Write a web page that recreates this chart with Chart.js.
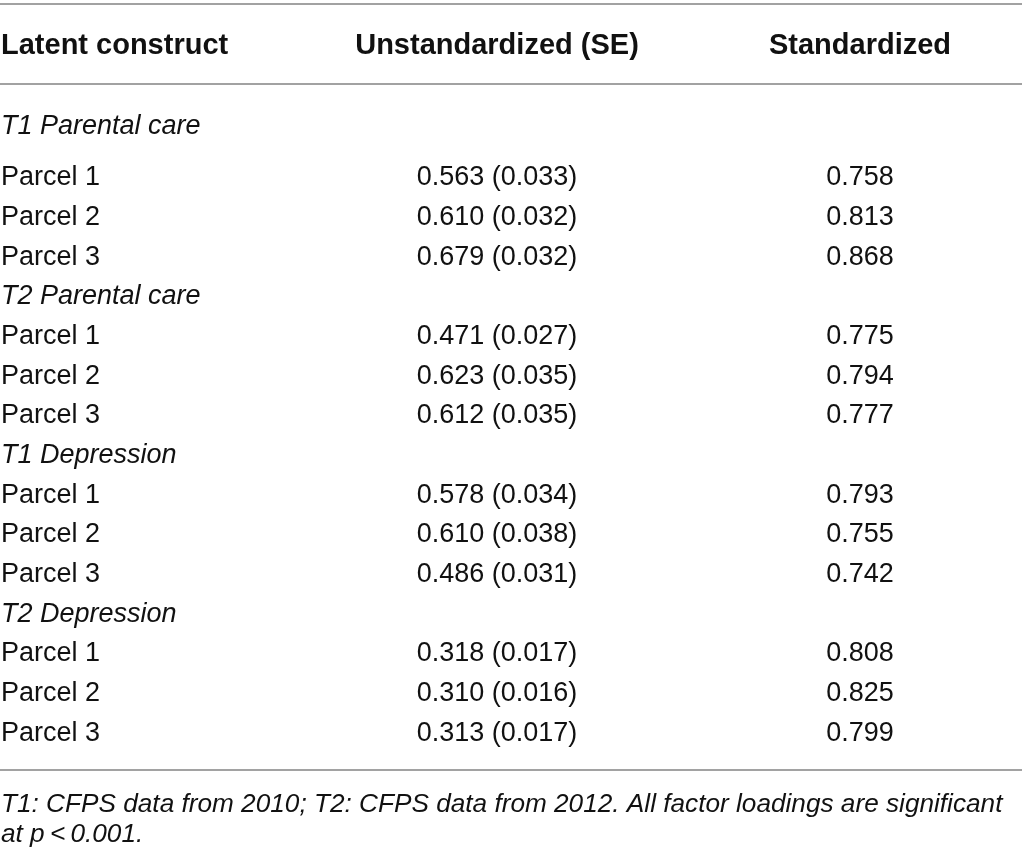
<!DOCTYPE html>
<html>
<head>
<meta charset="utf-8">
<title>Factor loadings</title>
<script src="https://cdn.jsdelivr.net/npm/chart.js@4.4.1/dist/chart.umd.min.js"></script>
<style>
    html, body { margin: 0; padding: 0; background: #ffffff; }
    #wrap { width: 1022px; height: 859px; position: relative; }
</style>
</head>
<body>
<div id="wrap"><canvas id="table-chart"></canvas></div>
<script>
// table content
var headers = ['Latent construct', 'Unstandardized (SE)', 'Standardized'];
var groups = ['T1 Parental care', 'T2 Parental care', 'T1 Depression', 'T2 Depression'];
var parcels = ['Parcel 1', 'Parcel 2', 'Parcel 3'];
var unstd = [0.563, 0.610, 0.679, 0.471, 0.623, 0.612, 0.578, 0.610, 0.486, 0.318, 0.310, 0.313];
var se = [0.033, 0.032, 0.032, 0.027, 0.035, 0.035, 0.034, 0.038, 0.031, 0.017, 0.016, 0.017];
var stdz = [0.758, 0.813, 0.868, 0.775, 0.794, 0.777, 0.793, 0.755, 0.742, 0.808, 0.825, 0.799];
var notes = ['T1: CFPS data from 2010; T2: CFPS data from 2012. All factor loadings are significant',
             'at p\u2009<\u20090.001.'];

// layout (scale units: x in px across, y in row steps)
var colX = [1, 497, 860];
var headerY = -2.317;
var firstGroupShift = -0.299;
var ruleY = [-3.578, -1.560, 15.741];
var noteY = [16.80, 17.557];

var fontFamily = '"Liberation Sans", Arial, Helvetica, sans-serif';
var fontBody = '27px ' + fontFamily;
var fontGroup = 'italic 27px ' + fontFamily;
var fontHead = 'bold 29px ' + fontFamily;
var fontNote = 'italic 26.2px ' + fontFamily;

// build rows from the arrays
var labelTexts = [], labelFonts = [], labelPts = [];
var uTexts = [], uPts = [], sTexts = [], sPts = [];
var row = 0;
groups.forEach(function (g, gi) {
    labelTexts.push(g);
    labelFonts.push(fontGroup);
    labelPts.push({ x: colX[0], y: row + (gi === 0 ? firstGroupShift : 0) });
    row++;
    parcels.forEach(function (p, pi) {
        var k = gi * parcels.length + pi;
        labelTexts.push(p);
        labelFonts.push(fontBody);
        labelPts.push({ x: colX[0], y: row });
        uTexts.push(unstd[k].toFixed(3) + ' (' + se[k].toFixed(3) + ')');
        uPts.push({ x: colX[1], y: row });
        sTexts.push(stdz[k].toFixed(3));
        sPts.push({ x: colX[2], y: row });
        row++;
    });
});

var textPlugin = {
    id: 'cellText',
    beforeDatasetsDraw: function (chart) {
        var ctx = chart.ctx;
        var area = chart.chartArea;
        var y = chart.scales.y;
        ctx.save();
        ctx.strokeStyle = '#a2a2a2';
        ctx.lineWidth = 2;
        ruleY.forEach(function (v) {
            var py = Math.round(y.getPixelForValue(v));
            ctx.beginPath();
            ctx.moveTo(area.left, py);
            ctx.lineTo(area.right, py);
            ctx.stroke();
        });
        ctx.restore();
    },
    afterDatasetsDraw: function (chart) {
        var ctx = chart.ctx;
        ctx.save();
        ctx.fillStyle = '#111111';
        ctx.textBaseline = 'alphabetic';
        chart.data.datasets.forEach(function (ds, i) {
            var meta = chart.getDatasetMeta(i);
            meta.data.forEach(function (pt, j) {
                ctx.font = Array.isArray(ds.cellFont) ? ds.cellFont[j] : ds.cellFont;
                ctx.textAlign = Array.isArray(ds.cellAlign) ? ds.cellAlign[j] : ds.cellAlign;
                ctx.fillText(ds.texts[j], pt.x, pt.y);
            });
        });
        ctx.restore();
    }
};

function makeSet(label, pts, texts, font, align) {
    return {
        label: label,
        data: pts,
        texts: texts,
        cellFont: font,
        cellAlign: align,
        pointRadius: 0,
        pointHoverRadius: 0,
        showLine: false
    };
}

var ctx = document.getElementById('table-chart');
var chart = new Chart(ctx, {
    type: 'scatter',
    data: {
        datasets: [
            makeSet('header', headers.map(function (h, c) { return { x: colX[c], y: headerY }; }),
                headers, fontHead, ['left', 'center', 'center']),
            makeSet('Latent construct', labelPts, labelTexts, labelFonts, 'left'),
            makeSet('Unstandardized (SE)', uPts, uTexts, fontBody, 'center'),
            makeSet('Standardized', sPts, sTexts, fontBody, 'center'),
            makeSet('note', noteY.map(function (v) { return { x: colX[0], y: v }; }),
                notes, fontNote, 'left')
        ]
    },
    options: {
        responsive: true,
        maintainAspectRatio: false,
        animation: false,
        layout: { padding: 0 },
        plugins: {
            legend: { display: false },
            tooltip: { enabled: false }
        },
        events: [],
        scales: {
            x: { type: 'linear', min: 0, max: 1022, display: false },
            y: { type: 'linear', min: -3.678, max: 17.986, reverse: true, display: false }
        }
    },
    plugins: [textPlugin]
});
</script>
</body>
</html>
